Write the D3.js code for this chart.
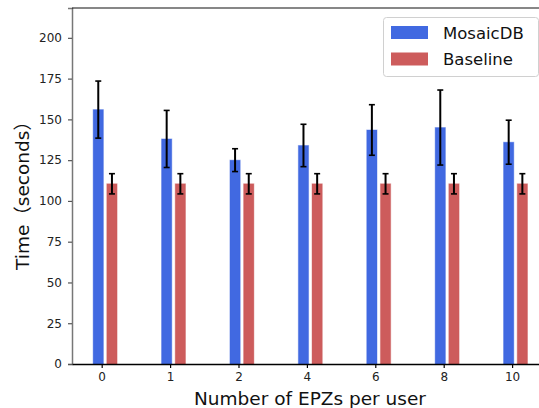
<!DOCTYPE html>
<html>
<head>
<meta charset="utf-8">
<script src="https://cdn.jsdelivr.net/npm/d3@7"></script>
<style>
  body { margin: 0; background: #fff; }
  svg { display: block; font-family: "DejaVu Sans", "Noto Sans CJK JP", sans-serif; }
</style>
</head>
<body>
<svg id="chart" width="539" height="408"></svg>
<script>
// values
let categories = ["0", "1", "2", "4", "6", "8", "10"];
let mosaicMean = [156, 138, 125, 134, 143.5, 145, 136];
let mosaicErr = [17.5, 17.5, 7, 13, 15.5, 23, 13.5];
let baselineMean = [110.5, 110.5, 110.5, 110.5, 110.5, 110.5, 110.5];
let baselineErr = [6.2, 6.2, 6.2, 6.2, 6.2, 6.2, 6.2];
let yTicks = [0, 25, 50, 75, 100, 125, 150, 175, 200];

let series = [
  { name: "MosaicDB", mean: mosaicMean, err: mosaicErr, color: "#4169e1", offset: -0.05 },
  { name: "Baseline", mean: baselineMean, err: baselineErr, color: "#cd5c5c", offset: 0.15 }
];

let svg = d3.select("#chart");
let barWidth = 0.15;

let xScale = d3.scaleLinear().domain([-0.434, 6.5]).range([72, 546.3]);
let yScale = d3.scaleLinear().domain([0, 218.3]).range([364, 8]);

// bars + error bars
series.forEach(s => {
  let g = svg.append("g").attr("class", s.name);

  g.selectAll("rect")
    .data(s.mean)
    .join("rect")
    .attr("x", (d, i) => xScale(i + s.offset - barWidth / 2))
    .attr("width", xScale(barWidth) - xScale(0))
    .attr("y", d => yScale(d))
    .attr("height", d => yScale(0) - yScale(d))
    .attr("fill", s.color)
    .attr("stroke", s.color)
    .attr("stroke-opacity", 0.4)
    .attr("stroke-width", 1);

  let eb = g.selectAll("g.err")
    .data(s.mean.map((m, i) => ({ m, e: s.err[i], i })))
    .join("g")
    .attr("class", "err");

  eb.append("line")
    .attr("x1", d => xScale(d.i + s.offset))
    .attr("x2", d => xScale(d.i + s.offset))
    .attr("y1", d => yScale(d.m - d.e))
    .attr("y2", d => yScale(d.m + d.e))
    .attr("stroke", "#000")
    .attr("stroke-width", 2);

  [-1, 1].forEach(sign => {
    eb.append("line")
      .attr("x1", d => xScale(d.i + s.offset) - 3)
      .attr("x2", d => xScale(d.i + s.offset) + 3)
      .attr("y1", d => yScale(d.m + sign * d.e))
      .attr("y2", d => yScale(d.m + sign * d.e))
      .attr("stroke", "#000")
      .attr("stroke-width", 1.6);
  });
});

// y axis
let yAxis = svg.append("g")
  .attr("transform", `translate(${xScale.range()[0]},0)`)
  .call(d3.axisLeft(yScale).tickValues(yTicks).tickSize(4).tickPadding(6));
yAxis.select(".domain").attr("stroke", "#777").attr("stroke-width", 1.5);
yAxis.selectAll(".tick line").attr("stroke", "#555").attr("stroke-width", 1.2);
yAxis.selectAll(".tick text")
  .attr("font-size", 12)
  .attr("fill", "#222")
  .attr("font-family", "DejaVu Sans");

// x axis
let xAxis = svg.append("g")
  .attr("transform", `translate(0,${yScale(0)})`)
  .call(d3.axisBottom(xScale)
    .tickValues(d3.range(categories.length))
    .tickFormat(i => categories[i])
    .tickSize(4)
    .tickSizeOuter(0)
    .tickPadding(4));
xAxis.select(".domain").attr("stroke", "#000").attr("stroke-width", 1.5);
xAxis.selectAll(".tick line").attr("stroke", "#000").attr("stroke-width", 1.2);
xAxis.selectAll(".tick text")
  .attr("font-size", 12)
  .attr("fill", "#222")
  .attr("font-family", "DejaVu Sans");

// top spine
svg.append("line")
  .attr("x1", xScale.range()[0])
  .attr("x2", xScale.range()[1])
  .attr("y1", yScale.range()[1])
  .attr("y2", yScale.range()[1])
  .attr("stroke", "#111")
  .attr("stroke-width", 1.2);

// axis labels
svg.append("text")
  .attr("x", 310)
  .attr("y", 405)
  .attr("text-anchor", "middle")
  .attr("font-size", 18.5)
  .attr("fill", "#111")
  .text("Number of EPZs per user");

svg.append("text")
  .attr("transform", "translate(22,191) rotate(-90)")
  .attr("text-anchor", "middle")
  .attr("dominant-baseline", "central")
  .attr("font-size", 18.5)
  .attr("fill", "#111")
  .text("Time（seconds）");

// legend
let legend = svg.append("g").attr("class", "legend");
legend.append("rect")
  .attr("x", 383.5)
  .attr("y", 17.5)
  .attr("width", 155)
  .attr("height", 59)
  .attr("rx", 3)
  .attr("fill", "#fff")
  .attr("fill-opacity", 0.8)
  .attr("stroke", "#d0d0d0");

series.forEach((s, i) => {
  legend.append("rect")
    .attr("x", 391)
    .attr("y", 26 + i * 26.5)
    .attr("width", 37)
    .attr("height", 13)
    .attr("fill", s.color);
  legend.append("text")
    .attr("x", 443)
    .attr("y", 38.5 + i * 26.5)
    .attr("font-size", 16.5)
    .attr("fill", "#111")
    .text(s.name);
});
</script>
</body>
</html>
